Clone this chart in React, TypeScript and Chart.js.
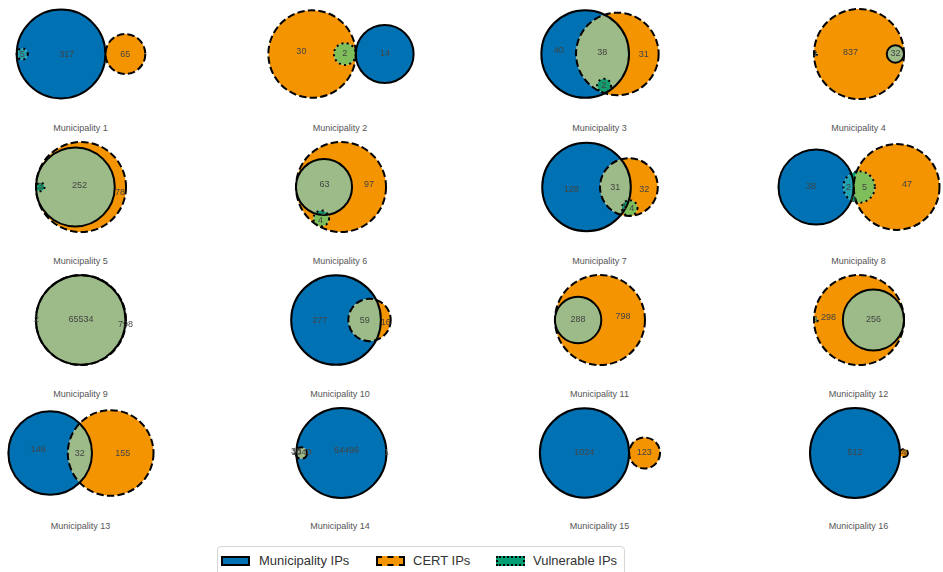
import React, { useEffect, useRef } from "react";
import { Chart, registerables } from "chart.js";

Chart.register(...registerables);

// ---------------- DATA ----------------
const municipalities = [
  "Municipality 1", "Municipality 2", "Municipality 3", "Municipality 4",
  "Municipality 5", "Municipality 6", "Municipality 7", "Municipality 8",
  "Municipality 9", "Municipality 10", "Municipality 11", "Municipality 12",
  "Municipality 13", "Municipality 14", "Municipality 15", "Municipality 16",
];

// Venn region counts (A = Municipality IPs, B = CERT IPs, C = Vulnerable IPs)
const onlyMunicipality = [317, 14, 40, 0, 0, 0, 128, 38, 2, 277, 0, 0, 146, 64496, 1024, 512];
const onlyCert = [65, 30, 31, 837, 78, 97, 32, 47, 798, 16, 798, 298, 155, 38, 123, 4];
const municipalityAndCert = [0, 0, 38, 32, 252, 63, 31, 0, 65534, 59, 288, 256, 32, 1040, 0, 0];
const onlyVulnerable = [0, 0, 0, 0, 0, 0, 0, 0, 0, 0, 0, 0, 0, 0, 0, 0];
const municipalityAndVulnerable = [5, 0, 0, 0, 0, 0, 0, 2, 0, 0, 0, 0, 0, 1, 0, 0];
const certAndVulnerable = [0, 2, 0, 1, 0, 4, 4, 5, 0, 0, 0, 1, 0, 0, 0, 0];
const allThree = [0, 0, 2, 0, 3, 1, 1, 0, 0, 0, 0, 0, 0, 0, 0, 0];

const legendLabels = ["Municipality IPs", "CERT IPs", "Vulnerable IPs"];

// ---------------- STYLE ----------------
const setColors = ["#0071B2", "#F39400", "#029E73"];
// region order: A, B, AB, C, AC, BC, ABC
const regionColors = ["#0071B2", "#F39400", "#9CBB88", "#029E73", "#22A1B1", "#7EBF5C", "#149C6E"];
const outlineDash: number[][] = [[], [7.4, 3.2], [2, 3.3]];
const FONT = '"Liberation Sans", Arial, Helvetica, sans-serif';

const W = 250;
const H = 106;
const colCenters = [81, 340.5, 600, 859];
const rowCenters = [54, 187, 320, 453];
const titleRows = [128, 261, 394, 526];

// ---------------- VENN LAYOUT (area proportional) ----------------
const TOL = 1e-10;

function circleIntersectionArea(R: number, r: number, d: number) {
  if (d >= R + r) return 0;
  if (d <= Math.abs(R - r)) return Math.PI * Math.min(R, r) ** 2;
  const c1 = Math.max(-1, Math.min(1, (d * d + r * r - R * R) / (2 * d * r)));
  const c2 = Math.max(-1, Math.min(1, (d * d + R * R - r * r) / (2 * d * R)));
  const k = (-d + r + R) * (d + r - R) * (d - r + R) * (d + r + R);
  return r * r * Math.acos(c1) + R * R * Math.acos(c2) - 0.5 * Math.sqrt(Math.max(0, k));
}

function findDistanceByArea(r1: number, r2: number, a: number) {
  let r = r1, R = r2;
  if (r > R) { r = r2; R = r1; }
  if (Math.abs(a) < TOL) return r + R;
  if (Math.abs(Math.PI * r * r - a) < TOL) return Math.abs(R - r + TOL);
  let lo = R - r, hi = R + r;
  for (let i = 0; i < 200; i++) {
    const mid = (lo + hi) / 2;
    if (circleIntersectionArea(R, r, mid) > a) lo = mid; else hi = mid;
  }
  return (lo + hi) / 2;
}

function solveVenn3(subsets: number[]) {
  const total = subsets.reduce((s, v) => s + v, 0);
  const a = subsets.map((v) => v / total);
  const minA = 1e-6;
  let Aa = a[0] + a[2] + a[4] + a[6]; if (Aa < minA) Aa = minA;
  let Ab = a[1] + a[2] + a[5] + a[6]; if (Ab < minA) Ab = minA;
  let Ac = a[3] + a[4] + a[5] + a[6]; if (Ac < minA) Ac = minA;
  const inter = [a[2] + a[6], a[5] + a[6], a[4] + a[6]]; // AB, BC, CA
  const radii = [Aa, Ab, Ac].map((v) => Math.sqrt(v / Math.PI));
  const pairs = [[0, 1], [1, 2], [2, 0]];
  const dists = pairs.map(([i, j], k) => findDistanceByArea(radii[i], radii[j], inter[k]));
  const nonzero = inter.filter((v) => v > TOL).length;
  let coords = [[0, 0], [0, 0], [0, 0]];
  if (nonzero === 3) {
    for (let i = 0; i < 3; i++) {
      const j = (i + 1) % 3, k = (i + 2) % 3;
      if (dists[i] > dists[j] + dists[k]) {
        const [s, b] = dists[j] < dists[k] ? [j, k] : [k, j];
        dists[i] = dists[b] + dists[s] * 0.8;
      }
    }
    const [dab, dbc, dac] = dists;
    const cx = Math.abs(dab) > TOL ? (dac * dac - dbc * dbc + dab * dab) / (2 * dab) : 0;
    const cy = dac * dac - cx * cx < 0 ? 0 : -Math.sqrt(dac * dac - cx * cx);
    coords = [[0, 0], [dab, 0], [cx, cy]];
  } else if (nonzero === 2) {
    for (let i = 0; i < 3; i++) {
      if (inter[i] < TOL) {
        const left = i, right = (i + 1) % 3, middle = (i + 2) % 3;
        coords[middle][0] = dists[middle];
        coords[right][0] = dists[middle] + dists[right];
        if (coords[left][0] + radii[left] > coords[right][0] - radii[right]) {
          const mid = (coords[left][0] + radii[left] + coords[right][0] - radii[right]) / 2;
          coords[left][0] = mid - radii[left] - 1e-5;
          coords[right][0] = mid + radii[right] + 1e-5;
        }
        break;
      }
    }
  } else if (nonzero === 1) {
    for (let i = 0; i < 3; i++) {
      if (inter[i] > TOL) {
        const left = i, right = (i + 1) % 3, side = (i + 2) % 3;
        coords[right][0] = dists[left];
        coords[side][0] = coords[right][0] + radii[right] + radii[side];
        break;
      }
    }
  } else {
    coords[1][0] = radii[0] + radii[1];
    coords[2][0] = radii[0] + 2 * radii[1] + radii[2];
  }
  const w = radii.map((r) => r * r);
  const sw = w.reduce((s, v) => s + v, 0);
  const mx = (w[0] * coords[0][0] + w[1] * coords[1][0] + w[2] * coords[2][0]) / sw;
  const my = (w[0] * coords[0][1] + w[1] * coords[1][1] + w[2] * coords[2][1]) / sw;
  const centers = coords.map(([x, y]) => [x - mx, y - my]);
  return { centers, radii };
}

type Circ = { x: number; y: number; r: number };

function computeLabels(circles: Circ[], subsets: number[]) {
  let minX = Infinity, maxX = -Infinity, minY = Infinity, maxY = -Infinity;
  circles.forEach((c) => {
    minX = Math.min(minX, c.x - c.r); maxX = Math.max(maxX, c.x + c.r);
    minY = Math.min(minY, c.y - c.r); maxY = Math.max(maxY, c.y + c.r);
  });
  const step = 0.5;
  const best: ({ x: number; y: number; c: number } | null)[] = new Array(7).fill(null);
  const npts = new Array(7).fill(0);
  for (let y = minY; y <= maxY; y += step) {
    for (let x = minX; x <= maxX; x += step) {
      let key = 0;
      let clear = Infinity;
      let clearBig = Infinity;
      for (let i = 0; i < 3; i++) {
        const c = circles[i];
        const d = Math.hypot(x - c.x, y - c.y);
        if (d < c.r) key |= 1 << i;
        const e = Math.abs(d - c.r);
        clear = Math.min(clear, e);
        if (c.r >= 3) clearBig = Math.min(clearBig, e);
      }
      if (!key) continue;
      const idx = key - 1;
      // ignore tiny circles when they do not bound this region
      const tinyInside = [0, 1, 2].some((i) => circles[i].r < 3 && key & (1 << i));
      const cl = tinyInside || clearBig === Infinity ? clear : clearBig;
      npts[idx]++;
      if (!best[idx] || cl > best[idx]!.c) best[idx] = { x, y, c: cl };
    }
  }
  const out: { x: number; y: number; text: string }[] = [];
  for (let idx = 0; idx < 7; idx++) {
    const key = idx + 1;
    const count = subsets[idx];
    if (count <= 0 && npts[idx] * step * step < 6) continue;
    let pos = best[idx] ? { x: best[idx]!.x, y: best[idx]!.y } : null;
    if (!pos && count > 0) {
      let sx = 0, sy = 0, n = 0;
      for (let i = 0; i < 3; i++) {
        if (!(key & (1 << i))) continue;
        const c = circles[i];
        for (let k = 0; k < 3600; k++) {
          const t = (k / 3600) * Math.PI * 2;
          const px = c.x + Math.cos(t) * c.r * (1 - 1e-7);
          const py = c.y + Math.sin(t) * c.r * (1 - 1e-7);
          let kk = 0;
          for (let j = 0; j < 3; j++) {
            const cj = circles[j];
            if (Math.hypot(px - cj.x, py - cj.y) < cj.r) kk |= 1 << j;
          }
          if (kk === key) { sx += px; sy += py; n++; }
        }
      }
      if (n > 0) pos = { x: sx / n, y: sy / n };
    }
    if (pos) out.push({ x: pos.x, y: pos.y, text: String(count) });
  }
  return out;
}

const regionBits = [
  [1, 0, 0], [0, 1, 0], [1, 1, 0], [0, 0, 1], [1, 0, 1], [0, 1, 1], [1, 1, 1],
];

function VennChart({ index }: { index: number }) {
  const ref = useRef<HTMLCanvasElement>(null);
  useEffect(() => {
    const subsets = [
      onlyMunicipality[index], onlyCert[index], municipalityAndCert[index],
      onlyVulnerable[index], municipalityAndVulnerable[index], certAndVulnerable[index], allThree[index],
    ];
    const setTotals = [
      subsets[0] + subsets[2] + subsets[4] + subsets[6],
      subsets[1] + subsets[2] + subsets[5] + subsets[6],
      subsets[3] + subsets[4] + subsets[5] + subsets[6],
    ];
    const layout = solveVenn3(subsets);
    let minX = Infinity, maxX = -Infinity, minY = Infinity, maxY = -Infinity;
    layout.centers.forEach(([x, y], i) => {
      const r = layout.radii[i];
      minX = Math.min(minX, x - r); maxX = Math.max(maxX, x + r);
      minY = Math.min(minY, y - r); maxY = Math.max(maxY, y + r);
    });
    const xlo = minX - 0.1, xhi = maxX + 0.1, ylo = minY - 0.1, yhi = maxY + 0.1;
    const upp = Math.max((xhi - xlo) / W, (yhi - ylo) / H);
    const mx = (xlo + xhi) / 2, my = (ylo + yhi) / 2;

    let labelCache: { x: number; y: number; text: string }[] | null = null;

    const vennPlugin = {
      id: "venn",
      afterDatasetsDraw(chart: any) {
        const ctx: CanvasRenderingContext2D = chart.ctx;
        const xs = chart.scales.x, ys = chart.scales.y;
        const circles: Circ[] = layout.centers.map(([cx, cy], i) => {
          const x = xs.getPixelForValue(cx);
          const y = ys.getPixelForValue(cy);
          const r = Math.abs(xs.getPixelForValue(cx + layout.radii[i]) - x);
          return { x, y, r };
        });
        const cw = chart.width, ch = chart.height;
        regionBits.forEach((bits, k) => {
          ctx.save();
          bits.forEach((b, i) => {
            const c = circles[i];
            ctx.beginPath();
            if (b) {
              ctx.arc(c.x, c.y, c.r, 0, Math.PI * 2);
              ctx.clip();
            } else {
              ctx.rect(-10, -10, cw + 20, ch + 20);
              ctx.arc(c.x, c.y, c.r, 0, Math.PI * 2);
              ctx.clip("evenodd");
            }
          });
          ctx.fillStyle = regionColors[k];
          ctx.fillRect(0, 0, cw, ch);
          ctx.restore();
        });
        [0, 1, 2].forEach((i) => {
          if (setTotals[i] <= 0) return;
          const c = circles[i];
          ctx.save();
          ctx.lineWidth = 2;
          ctx.strokeStyle = "#000";
          ctx.lineCap = "butt";
          ctx.setLineDash(outlineDash[i]);
          ctx.beginPath();
          ctx.arc(c.x, c.y, c.r, 0, -Math.PI * 2 + 1e-9, true);
          ctx.closePath();
          ctx.stroke();
          ctx.restore();
        });
        if (!labelCache) labelCache = computeLabels(circles, subsets);
        ctx.save();
        ctx.font = `9px ${FONT}`;
        ctx.textAlign = "center";
        ctx.textBaseline = "middle";
        ctx.fillStyle = "#444444";
        labelCache.forEach((l) => ctx.fillText(l.text, l.x, l.y));
        ctx.restore();
      },
    };

    const chart = new Chart(ref.current as HTMLCanvasElement, {
      type: "scatter",
      data: {
        datasets: [
          {
            label: municipalities[index],
            data: layout.centers.map(([x, y]) => ({ x, y })),
            pointRadius: 0,
            pointHoverRadius: 0,
          },
        ],
      },
      options: {
        animation: false,
        responsive: false,
        events: [],
        layout: { padding: 0 },
        plugins: { legend: { display: false }, tooltip: { enabled: false }, title: { display: false } },
        scales: {
          x: { type: "linear", display: false, bounds: "data", min: mx - (upp * W) / 2, max: mx + (upp * W) / 2 },
          y: { type: "linear", display: false, bounds: "data", min: my - (upp * H) / 2, max: my + (upp * H) / 2 },
        },
      },
      plugins: [vennPlugin],
    } as any);
    return () => chart.destroy();
  }, [index]);
  return <canvas ref={ref} width={W} height={H} style={{ display: "block", width: W, height: H }} />;
}

const legendPatch = [
  { left: 221, border: "2px solid #000" },
  { left: 376, border: "2px dashed #000" },
  { left: 496, border: "2px dotted #000" },
];
const legendTextLeft = [259, 413, 533];

export default function App() {
  return (
    <div
      style={{
        position: "absolute", left: 0, top: 0, width: 943, height: 572,
        overflow: "hidden", background: "#fff", fontFamily: FONT,
      }}
    >
      {municipalities.map((name, i) => {
        const col = i % 4, row = Math.floor(i / 4);
        return (
          <React.Fragment key={name}>
            <div style={{ position: "absolute", left: colCenters[col] - W / 2, top: rowCenters[row] - H / 2, width: W, height: H }}>
              <VennChart index={i} />
            </div>
            <div
              style={{
                position: "absolute", left: colCenters[col] - 0.5 - 100, width: 200, top: titleRows[row] - 6,
                height: 12, lineHeight: "12px", fontSize: 9, color: "#555", textAlign: "center", whiteSpace: "nowrap",
              }}
            >
              {name}
            </div>
          </React.Fragment>
        );
      })}
      <div
        style={{
          position: "absolute", left: 217, top: 546, width: 408, height: 34, boxSizing: "border-box",
          border: "1px solid #d6d6d6", borderRadius: 4, background: "#fff",
        }}
      />
      {legendLabels.map((lab, i) => (
        <React.Fragment key={lab}>
          <div
            style={{
              position: "absolute", left: legendPatch[i].left, top: 556, width: 29, height: 10,
              boxSizing: "border-box", border: legendPatch[i].border, background: setColors[i],
            }}
          />
          <div
            style={{
              position: "absolute", left: legendTextLeft[i], top: 553, height: 16, lineHeight: "16px",
              fontSize: 13, color: "#333", whiteSpace: "nowrap",
            }}
          >
            {lab}
          </div>
        </React.Fragment>
      ))}
    </div>
  );
}
